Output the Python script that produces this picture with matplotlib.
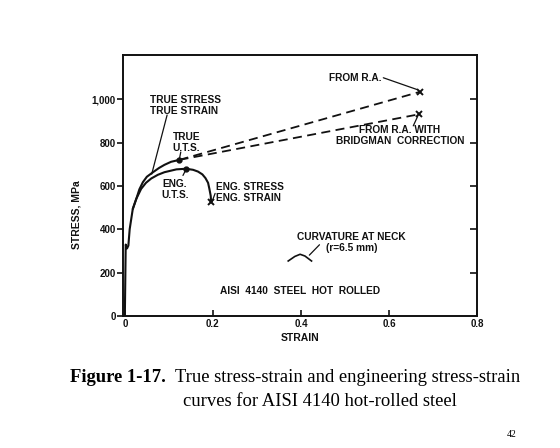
import matplotlib
matplotlib.use('Agg')
import matplotlib.pyplot as plt

# Engineering stress-strain curve (MPa)
eng_strain = [0, 0.002, 0.005, 0.008, 0.011, 0.018, 0.026, 0.037, 0.048, 0.060,
              0.075, 0.090, 0.117, 0.139, 0.155, 0.166, 0.176, 0.183, 0.189, 0.192, 0.195, 0.196]
eng_stress = [0, 330, 312, 325, 401, 494, 541, 587, 615, 635,
              652, 664, 677, 680, 675, 667, 654, 637, 615, 587, 555, 525]

# True stress-strain curve (branches off the engineering curve)
true_strain = [0.018, 0.026, 0.033, 0.041, 0.050, 0.064, 0.078, 0.090, 0.105, 0.124]
true_stress = [494, 541, 585, 618, 643, 664, 684, 698, 712, 721]

# True U.T.S. and the two fracture estimates
true_uts = (0.124, 721)
eng_uts = (0.139, 680)
eng_fracture = (0.196, 525)
from_ra = (0.670, 1035)
from_ra_bridgman = (0.667, 931)

# Neck curvature sketch
neck_x = [0.371, 0.386, 0.398, 0.409, 0.424]
neck_y = [254, 275, 285, 277, 254]

x_ticks = [0, 0.2, 0.4, 0.6, 0.8]
x_ticklabels = ['0', '0.2', '0.4', '0.6', '0.8']
y_ticks = [0, 200, 400, 600, 800, 1000]
y_ticklabels = ['0', '200', '400', '600', '800', '1,000']

plt.rcParams['font.family'] = ['Liberation Sans', 'DejaVu Sans']

fig = plt.figure(figsize=(5.6, 4.48), dpi=100)
ax = fig.add_axes([0.219, 0.2946, 0.633, 0.5826])

ink = '#111111'
ax.plot(eng_strain, eng_stress, color=ink, lw=1.5, solid_capstyle='round')
ax.plot(true_strain, true_stress, color=ink, lw=1.5, solid_capstyle='round')

# dashed extrapolations from true U.T.S.
ax.plot([true_uts[0], from_ra[0]], [true_uts[1], from_ra[1]],
        color=ink, lw=1.3, dashes=(5, 3))
ax.plot([true_uts[0], from_ra_bridgman[0]], [true_uts[1], from_ra_bridgman[1]],
        color=ink, lw=1.3, dashes=(5, 3))

ax.plot(*true_uts, 'o', color=ink, ms=3.5)
ax.plot(*eng_uts, 'o', color=ink, ms=3.5)
ax.plot(*eng_fracture, 'x', color=ink, ms=5, mew=1.4)
ax.plot(*from_ra, 'x', color=ink, ms=5, mew=1.4)
ax.plot(*from_ra_bridgman, 'x', color=ink, ms=5, mew=1.4)

ax.plot(neck_x, neck_y, color=ink, lw=1.2)

lab = dict(fontsize=7.3, fontweight='bold', color=ink, linespacing=1.1)
line = dict(arrowstyle='-', color=ink, lw=0.9, shrinkA=0, shrinkB=0)

ax.text(0.057, 973, 'TRUE STRESS\nTRUE STRAIN', ha='left', va='center', **lab)
ax.annotate('', xy=(0.061, 655), xytext=(0.096, 928), arrowprops=line)

ax.text(0.140, 802, 'TRUE\nU.T.S.', ha='center', va='center', **lab)
ax.annotate('', xy=(0.124, 726), xytext=(0.127, 757), arrowprops=line)

ax.text(0.114, 585, 'ENG.\nU.T.S.', ha='center', va='center', **lab)
ax.annotate('', xy=(0.139, 677), xytext=(0.132, 649), arrowprops=line)

ax.text(0.208, 571, 'ENG. STRESS\nENG. STRAIN', ha='left', va='center', **lab)
ax.annotate('', xy=(0.198, 528), xytext=(0.205, 566), arrowprops=line)

ax.text(0.583, 1101, 'FROM R.A.', ha='right', va='center', **lab)
ax.annotate('', xy=(0.663, 1046), xytext=(0.587, 1100), arrowprops=line)

ax.text(0.625, 832, 'FROM R.A. WITH\nBRIDGMAN  CORRECTION', ha='center', va='center', **lab)
ax.annotate('', xy=(0.665, 922), xytext=(0.655, 878), arrowprops=line)

ax.text(0.515, 340, 'CURVATURE AT NECK\n(r=6.5 mm)', ha='center', va='center', **lab)
ax.annotate('', xy=(0.419, 281), xytext=(0.442, 329), arrowprops=line)

ax.text(0.398, 115, 'AISI  4140  STEEL  HOT  ROLLED', ha='center', va='center', **lab)

ax.set_xlim(-0.005, 0.8)
ax.set_ylim(0, 1205)
ax.set_xticks(x_ticks)
ax.set_xticklabels(x_ticklabels)
ax.set_yticks(y_ticks)
ax.set_yticklabels(y_ticklabels)
ax.tick_params(axis='y', direction='out', length=4, width=1.2, labelsize=7, pad=1, colors=ink)
ax.tick_params(axis='x', direction='in', length=4, width=1.2, labelsize=7, pad=2, colors=ink)
for lbl in ax.get_xticklabels() + ax.get_yticklabels():
    lbl.set_fontweight('bold')
for s in ax.spines.values():
    s.set_linewidth(1.4)
    s.set_color(ink)

# right-hand ticks point inward
ax_r = ax.twinx()
ax_r.set_ylim(ax.get_ylim())
ax_r.set_yticks(y_ticks[1:])
ax_r.tick_params(axis='y', direction='in', length=5, width=1.2, labelright=False, colors=ink)
ax_r.spines[:].set_visible(False)

ax.set_xlabel('STRAIN', fontsize=7.5, fontweight='bold', labelpad=3, color=ink)
ax.set_ylabel('STRESS, MPa', fontsize=7.5, fontweight='bold', labelpad=4, color=ink)
ax.yaxis.set_label_coords(-0.115, 0.387)

# caption
fig.text(70 / 560, 1 - 382 / 448, 'Figure 1-17.', fontsize=13.4, fontweight='bold',
         family='Liberation Serif', ha='left', va='baseline')
fig.text(175 / 560, 1 - 382 / 448, 'True stress-strain and engineering stress-strain',
         fontsize=13.4, family='Liberation Serif', ha='left', va='baseline')
fig.text(183 / 560, 1 - 406 / 448, 'curves for AISI 4140 hot-rolled steel',
         fontsize=13.4, family='Liberation Serif', ha='left', va='baseline')
fig.text(512 / 560, 1 - 437 / 448, '42', fontsize=7, family='Liberation Serif',
         ha='center', va='baseline')

fig.savefig('out.png', dpi=100)
